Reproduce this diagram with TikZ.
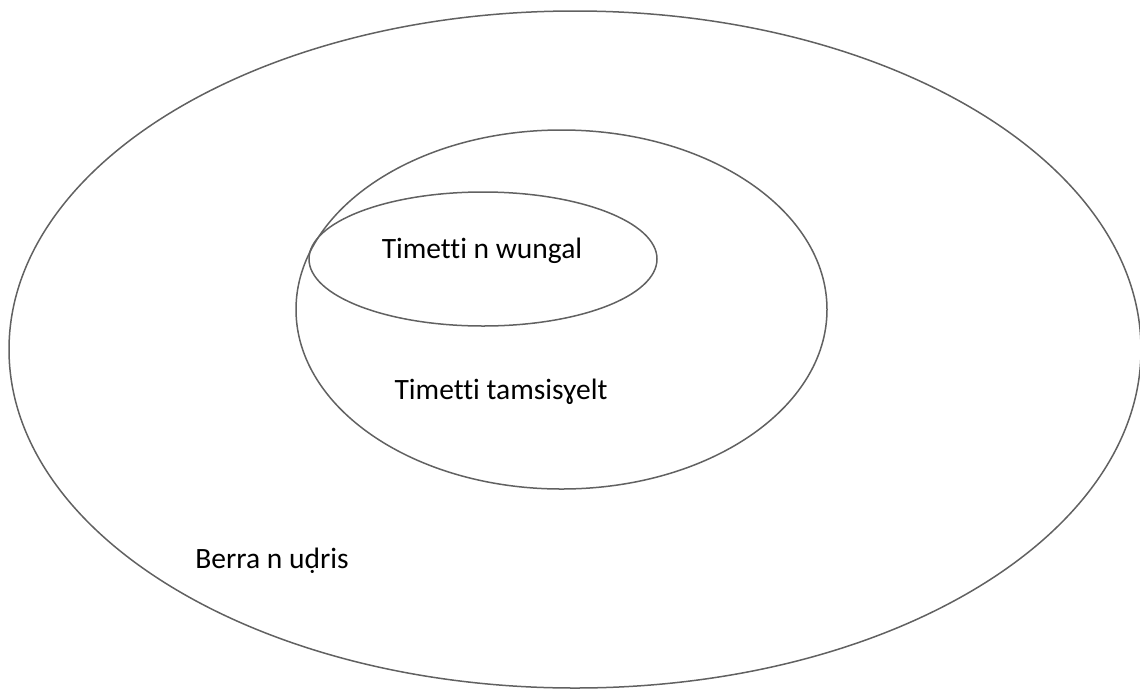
\documentclass[tikz,border=0pt]{standalone}
\usepackage{fontspec}
\setmainfont{Carlito}[Ligatures={NoCommon,NoContextual}]
\begin{document}
\begin{tikzpicture}[x=1pt,y=-1pt,
  ring/.style={draw=black!62, line width=1.5pt},
  lbl/.style={font=\fontsize{29.5}{34}\selectfont, text=black, inner sep=0pt, anchor=base}]
\useasboundingbox (0,0) rectangle (1140,689);
\draw[ring] (575,349.5) ellipse [x radius=566, y radius=338.5];
\draw[ring] (561.5,309.5) ellipse [x radius=265.5, y radius=179.5];
\draw[ring] (483,259) ellipse [x radius=174, y radius=67];
\node[lbl] (inner) at (482,258) {Timetti n wungal};
\node[lbl] (middle) at (501,399) {Timetti tamsisɣelt};
\node[lbl] (outer) at (272,568) {Berra n uḍris};
\end{tikzpicture}
\end{document}
